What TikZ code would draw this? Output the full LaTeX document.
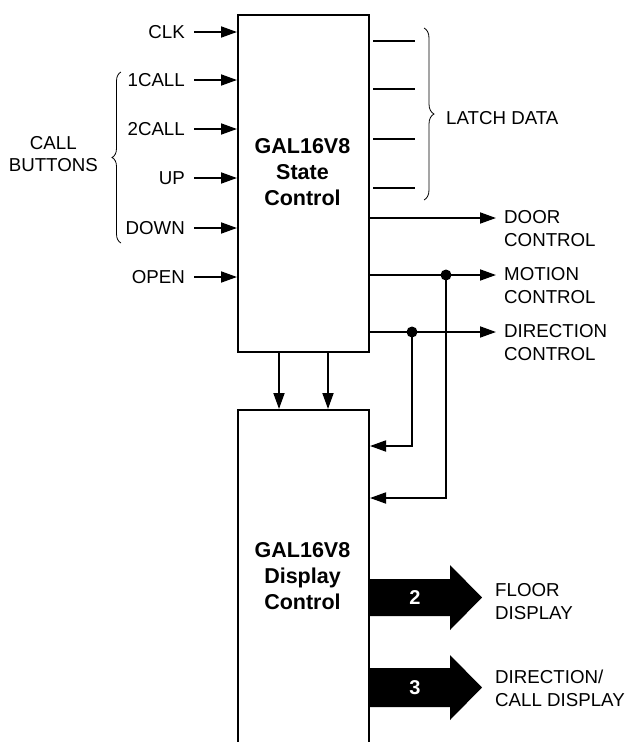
\documentclass[tikz,border=0pt]{standalone}
\usepackage{fontspec}
\setmainfont{Liberation Sans}
\usetikzlibrary{arrows.meta,decorations.pathreplacing,calc}
\begin{document}
\begin{tikzpicture}[x=1pt,y=-1pt,
  lab/.style={font=\fontsize{18.7}{23}\selectfont, inner sep=0pt, align=left},
  labc/.style={font=\fontsize{18.7}{22}\selectfont, inner sep=0pt, align=center},
  title/.style={font=\fontsize{21.5}{26}\selectfont\bfseries, align=center, inner sep=0pt},
  num/.style={font=\fontsize{20}{24}\selectfont\bfseries, text=white, inner sep=0pt},
  box/.style={draw, line width=2pt, inner sep=0pt},
  wire/.style={line width=1.8pt},
  arr/.style={wire, -{Triangle[length=16pt,width=11pt]}},
  dot/.style={circle, fill=black, inner sep=0pt, minimum size=11pt},
  brc/.style={line width=0.8pt, decorate, decoration={brace, amplitude=#1}},
  bigarrow/.style={fill=black}
]
\useasboundingbox (0,0) rectangle (625,742);
\clip (0,0) rectangle (625,742);

% boxes
\node[box, anchor=north west, minimum width=131pt, minimum height=337pt] (sc) at (237,14) {};
\node[box, anchor=north west, minimum width=131pt, minimum height=380pt] (dc) at (237,409) {};
\node[title] (sct) at (302.5,172) {GAL16V8\\State\\Control};
\node[title] (dct) at (302.5,576) {GAL16V8\\Display\\Control};

% inputs
\node[lab, anchor=east] (clk) at (185,32) {CLK};
\node[lab, anchor=east] (c1) at (185,80) {1CALL};
\node[lab, anchor=east] (c2) at (185,129) {2CALL};
\node[lab, anchor=east] (up) at (185,178) {UP};
\node[lab, anchor=east] (dn) at (185,228) {DOWN};
\node[lab, anchor=east] (op) at (185,277) {OPEN};
\foreach \n in {clk,c1,c2,up,dn,op}
  \draw[arr, shorten <=9pt] (\n.east) -- (\n.east -| sc.west);

\draw[brc=9pt] (121,243) -- (121,72);
\node[labc, anchor=east] (cb) at (98,154) {CALL\\BUTTONS};

% latch data
\foreach \i/\y in {1/41,2/89,3/139,4/188}{
  \coordinate (l\i) at (415,\y);
  \draw[wire] ([xshift=3pt]sc.east |- l\i) -- (l\i);
}
\draw[brc=10pt] (424,28) -- (424,200);
\node[lab, anchor=west] (ld) at (446,118.5) {LATCH DATA};

% outputs
\coordinate (doA) at (496,218);
\coordinate (moA) at (496,275);
\coordinate (diA) at (496,332);
\draw[arr] (sc.east |- doA) -- (doA);
\draw[arr] (sc.east |- moA) -- (moA);
\draw[arr] (sc.east |- diA) -- (diA);
\node[lab, anchor=west] (door) at (504,229) {DOOR\\CONTROL};
\node[lab, anchor=west] (mot) at (504,286) {MOTION\\CONTROL};
\node[lab, anchor=west] (dir) at (504,343) {DIRECTION\\CONTROL};

% junctions and feedback
\node[dot] (jm) at (446,275) {};
\node[dot] (jd) at (412,332) {};
\coordinate (fbd) at (412,446);
\coordinate (fbm) at (446,498);
\draw[arr] (jd.center) |- (dc.east |- fbd);
\draw[arr] (jm.center) |- (dc.east |- fbm);

% state -> display
\coordinate (d1) at (279,0);
\coordinate (d2) at (328,0);
\draw[arr] (d1 |- sc.south) -- (d1 |- dc.north);
\draw[arr] (d2 |- sc.south) -- (d2 |- dc.north);

% bus arrows
\fill[bigarrow] (dc.east |- 0,579) -- (450,579) -- (450,565) -- (482,597.5) -- (450,630) -- (450,616) -- (dc.east |- 0,616) -- cycle;
\fill[bigarrow] (dc.east |- 0,668) -- (450,668) -- (450,655) -- (482,687.5) -- (450,720) -- (450,707) -- (dc.east |- 0,707) -- cycle;
\node[num] (n2) at (415,598) {2};
\node[num] (n3) at (415,688) {3};
\node[lab, anchor=west] (fd) at (495,602) {FLOOR\\DISPLAY};
\node[lab, anchor=west] (cd) at (495,688.5) {DIRECTION/\\CALL DISPLAY};
\end{tikzpicture}
\end{document}
